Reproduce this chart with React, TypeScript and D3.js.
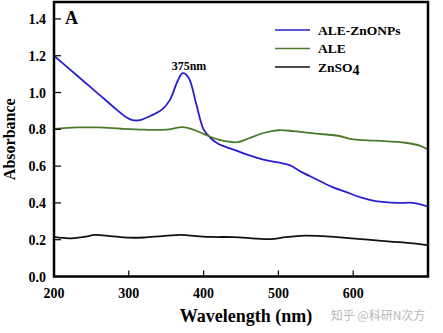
import React from "react";
import * as d3 from "d3";

const wlBlue = [200, 220, 240, 260, 280, 295, 305, 315, 330, 345, 355, 365, 372, 380, 390, 400, 410, 420, 440, 460, 480, 500, 515, 530, 550, 570, 590, 610, 630, 660, 680, 700];
const absBlue = [1.2, 1.13, 1.06, 0.99, 0.92, 0.87, 0.85, 0.85, 0.875, 0.91, 0.96, 1.06, 1.105, 1.08, 0.94, 0.8, 0.75, 0.72, 0.69, 0.66, 0.635, 0.62, 0.605, 0.57, 0.53, 0.49, 0.46, 0.43, 0.41, 0.4, 0.4, 0.38];

const wlGreen = [200, 230, 260, 290, 320, 350, 372, 385, 400, 415, 430, 445, 460, 480, 500, 520, 550, 580, 600, 630, 670, 690, 700];
const absGreen = [0.802, 0.81, 0.81, 0.803, 0.798, 0.798, 0.812, 0.8, 0.775, 0.75, 0.735, 0.73, 0.75, 0.78, 0.795, 0.79, 0.777, 0.765, 0.745, 0.738, 0.727, 0.71, 0.69];

const wlBlack = [200, 220, 240, 255, 275, 300, 320, 345, 370, 390, 410, 440, 470, 490, 510, 535, 560, 590, 620, 650, 680, 700];
const absBlack = [0.215, 0.207, 0.215, 0.226, 0.22, 0.211, 0.212, 0.22, 0.226, 0.22, 0.215, 0.214, 0.206, 0.203, 0.214, 0.222, 0.219, 0.21, 0.2, 0.19, 0.18, 0.17];

const xTicks = [200, 300, 400, 500, 600];
const yTicks = [0, 0.2, 0.4, 0.6, 0.8, 1.0, 1.2, 1.4];

const seriesNames = ["ALE-ZnONPs", "ALE", "ZnSO"];
const seriesColors = ["#2a1fcf", "#4b7a2c", "#111111"];

const W = 443, H = 333;
const L = 54, R = 428, T = 2, B = 276.5;

export default function App() {
  const x = d3.scaleLinear().domain([200, 700]).range([L, R]);
  const y = d3.scaleLinear().domain([0, 1.492]).range([B, T]);
  const line = d3.line<[number, number]>().x(d => x(d[0])).y(d => y(d[1])).curve(d3.curveCatmullRom.alpha(0.5));
  const series: [number[], number[]][] = [[wlBlue, absBlue], [wlGreen, absGreen], [wlBlack, absBlack]];
  const font = "Liberation Serif, Times New Roman, Times, serif";
  return (
    <svg width={W} height={H} style={{ position: "absolute", left: 0, top: 0, background: "#fff", fontFamily: font }}>
      <rect x={0} y={0} width={W} height={H} fill="#fff" />
      <defs>
        <clipPath id="clip"><rect x={L} y={T} width={R - L} height={B - T} /></clipPath>
      </defs>
      <g clipPath="url(#clip)">
        {series.map(([xs, ys], i) => (
          <path key={i} d={line(xs.map((v, j) => [v, ys[j]]) as [number, number][]) || ""} fill="none" stroke={seriesColors[i]} strokeWidth={1.8} />
        ))}
      </g>
      {xTicks.slice(1).map(t => (
        <line key={t} x1={x(t)} x2={x(t)} y1={B} y2={B - 6} stroke="#000" strokeWidth={1.2} />
      ))}
      {yTicks.slice(1).map(t => (
        <line key={t} x1={L} x2={L + 7} y1={y(t)} y2={y(t)} stroke="#000" strokeWidth={1.2} />
      ))}
      <rect x={L} y={T} width={R - L} height={B - T} fill="none" stroke="#000" strokeWidth={2.5} />
      {xTicks.map(t => (
        <text key={t} x={x(t)} y={298} textAnchor="middle" fontSize={14} fontWeight="bold">{t}</text>
      ))}
      {yTicks.map(t => (
        <text key={t} x={46} y={y(t) + 5} textAnchor="end" fontSize={14} fontWeight="bold">{t.toFixed(1)}</text>
      ))}
      <text x={246} y={322} textAnchor="middle" fontSize={18} fontWeight="bold">Wavelength (nm)</text>
      <text transform={`translate(15,${(T + B) / 2}) rotate(-90)`} textAnchor="middle" fontSize={16} fontWeight="bold">Absorbance</text>
      <text x={65} y={24} fontSize={18} fontWeight="bold">A</text>
      <text x={189} y={70} textAnchor="middle" fontSize={12} fontWeight="bold">375nm</text>
      {seriesNames.map((n, i) => (
        <g key={n}>
          <line x1={275} x2={310} y1={30 + i * 18.5} y2={30 + i * 18.5} stroke={seriesColors[i]} strokeWidth={1.6} />
          <text x={318} y={34.5 + i * 18.5} fontSize={13.5} fontWeight="bold">
            {n}{i === 2 ? <tspan dy={3} fontSize={14}>4</tspan> : null}
          </text>
        </g>
      ))}
      <text x={378} y={320} textAnchor="middle" fontSize={12} fill="#b8b8b8" style={{ fontFamily: "Noto Sans CJK SC, sans-serif" }}>知乎 @科研N次方</text>
    </svg>
  );
}
